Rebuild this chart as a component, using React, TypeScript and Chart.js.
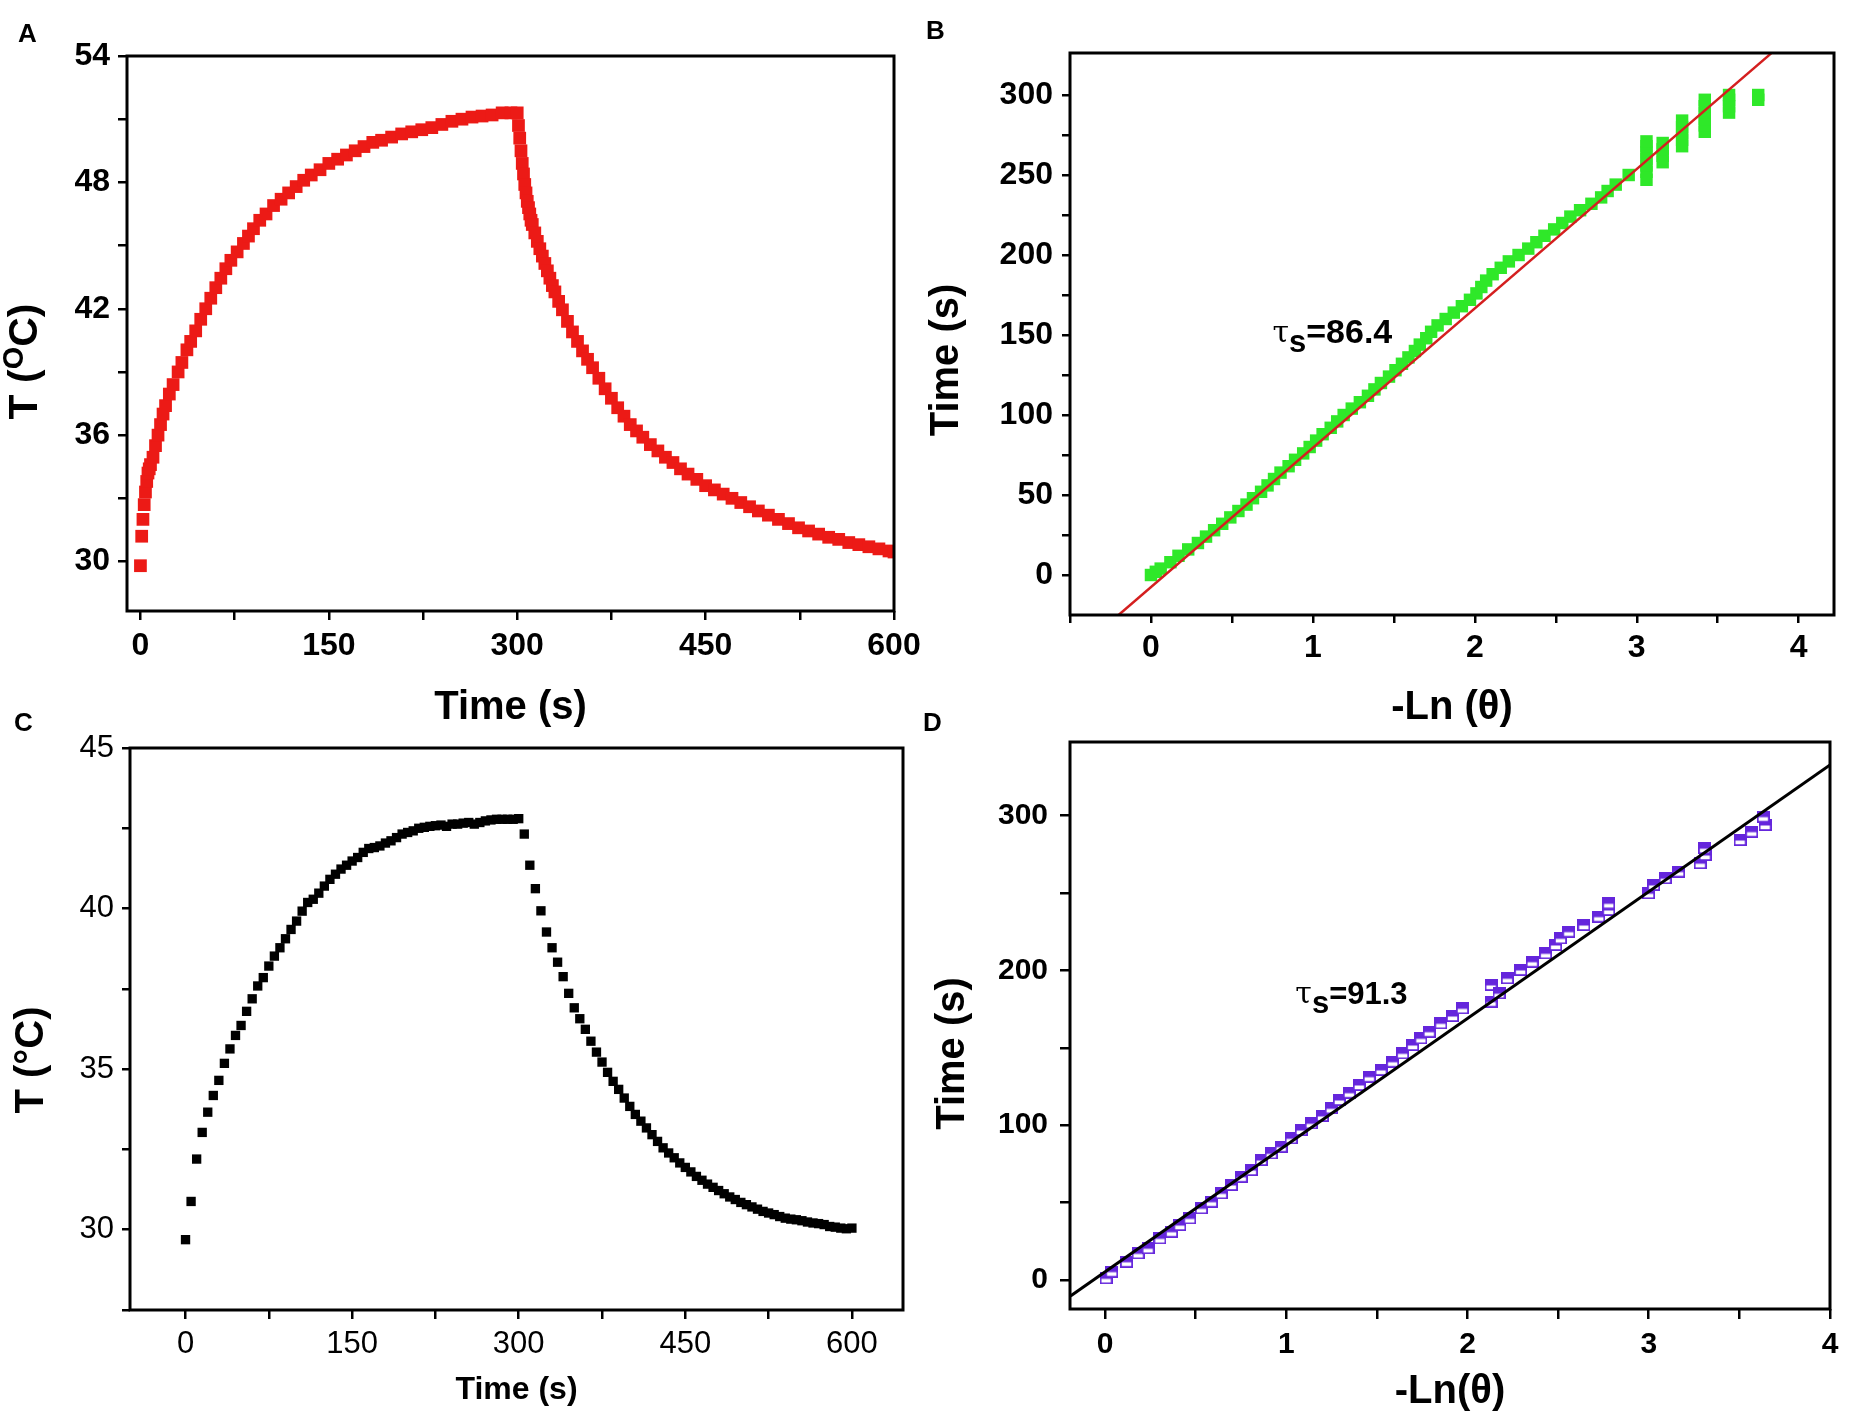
import { useEffect, useRef } from "react"
import { Chart, registerables } from "chart.js"

Chart.register(...registerables)

// ---------- A: photothermal heating / cooling curve (red) ----------
const heatTimeA = [
  0, 1, 2, 3, 4, 5, 6, 7, 8, 10, 12, 14, 16, 18, 20, 23, 26, 30, 33, 37, 40, 44, 48, 52, 56, 60, 64, 68, 72, 77, 82,
  86, 90, 95, 100, 106, 112, 118, 124, 130, 136, 143, 150, 157, 164, 171, 178, 185, 192, 200, 208, 216, 224, 232,
  240, 248, 256, 264, 272, 280, 288, 295, 300,
]
const heatTempA = [
  29.8, 31.2, 32.0, 32.7, 33.3, 33.8, 34.2, 34.4, 34.6, 34.95, 35.5, 36.0, 36.5, 37.0, 37.4, 37.95, 38.4, 39.0, 39.45,
  40.05, 40.45, 40.95, 41.5, 42.0, 42.5, 43.0, 43.45, 43.9, 44.3, 44.7, 45.1, 45.45, 45.8, 46.2, 46.5, 46.9, 47.2, 47.5,
  47.8, 48.1, 48.35, 48.6, 48.9, 49.1, 49.3, 49.5, 49.7, 49.9, 50.0, 50.15, 50.3, 50.4, 50.5, 50.6, 50.75, 50.9, 51.0,
  51.1, 51.15, 51.2, 51.3, 51.3, 51.3,
]
const coolTimeA = [
  301, 302, 303, 304, 305, 306, 307, 308, 309, 310, 311, 312, 314, 316, 318, 320, 322, 324, 326, 328, 330, 333, 336,
  340, 344, 348, 352, 356, 360, 365, 370, 375, 380, 385, 390, 395, 400, 406, 412, 418, 424, 430, 436, 443, 450, 457,
  464, 471, 478, 485, 492, 500, 508, 516, 524, 532, 540, 548, 556, 564, 572, 580, 588, 596, 600,
]
const coolTempA = [
  50.7, 50.1, 49.5, 48.9, 48.4, 47.9, 47.5, 47.1, 46.8, 46.5, 46.2, 46.0, 45.6, 45.2, 44.85, 44.5, 44.15, 43.8, 43.45,
  43.1, 42.8, 42.35, 41.95, 41.4, 40.9, 40.45, 40.0, 39.6, 39.2, 38.7, 38.2, 37.75, 37.3, 36.9, 36.5, 36.2, 35.9,
  35.55, 35.25, 34.95, 34.7, 34.4, 34.15, 33.9, 33.6, 33.4, 33.2, 33.0, 32.8, 32.6, 32.4, 32.2, 32.0, 31.8, 31.6,
  31.45, 31.3, 31.15, 31.05, 30.9, 30.8, 30.7, 30.6, 30.5, 30.45,
]

// ---------- B: time vs -Ln(theta), green data + red fit ----------
const bandTimeB = [
  0, 2, 4, 8, 12, 16, 20, 24, 28, 32, 36, 40, 44, 48, 52, 56, 60, 64, 68, 72, 76, 80, 84, 88, 92, 96, 100, 104, 108,
  112, 116, 120, 124, 128, 132, 136, 140, 144, 148, 152, 156, 160, 164, 168, 172, 176, 180, 184, 188, 192, 196, 200,
  204, 208, 212, 216, 220, 224, 228, 232, 236, 240, 244,
]
const bandLnB = [
  0.0, 0.03, 0.06, 0.12, 0.17, 0.23, 0.29, 0.34, 0.39, 0.44, 0.49, 0.54, 0.59, 0.63, 0.68, 0.72, 0.76, 0.8, 0.85, 0.89,
  0.94, 0.98, 1.02, 1.06, 1.11, 1.15, 1.19, 1.24, 1.29, 1.34, 1.38, 1.42, 1.47, 1.51, 1.55, 1.59, 1.63, 1.66, 1.7,
  1.73, 1.77, 1.82, 1.87, 1.92, 1.97, 2.01, 2.04, 2.07, 2.11, 2.16, 2.21, 2.27, 2.33, 2.38, 2.43, 2.49, 2.54, 2.59,
  2.65, 2.72, 2.78, 2.82, 2.87,
]
// noisy end of the cooling curve: -Ln(theta) jumps in steps
const tailLnB = [
  2.95, 3.06, 3.06, 3.06, 3.06, 3.06, 3.06, 3.06, 3.16, 3.16, 3.16, 3.16, 3.28, 3.28, 3.28, 3.28, 3.28, 3.42, 3.42,
  3.42, 3.42, 3.42, 3.42, 3.57, 3.57, 3.57, 3.57, 3.75, 3.75,
]
const tailTimeB = [
  250, 247, 252, 256, 260, 264, 268, 271, 258, 262, 266, 270, 268, 272, 276, 280, 284, 277, 281, 285, 289, 293, 297,
  289, 293, 297, 300, 297, 300,
]
const fitLnB = [-0.2, 3.83]
const fitTimeB = [-25, 326]

// ---------- C: second heating / cooling curve (black) ----------
const timeC = [
  0, 5, 10, 15, 20, 25, 30, 35, 40, 45, 50, 55, 60, 65, 70, 75, 80, 85, 90, 95, 100, 105, 110, 115, 120, 125, 130,
  135, 140, 145, 150, 155, 160, 165, 170, 175, 180, 185, 190, 195, 200, 205, 210, 215, 220, 225, 230, 235, 240, 245,
  250, 255, 260, 265, 270, 275, 280, 285, 290, 295, 300, 305, 310, 315, 320, 325, 330, 335, 340, 345, 350, 355, 360,
  365, 370, 375, 380, 385, 390, 395, 400, 405, 410, 415, 420, 425, 430, 435, 440, 445, 450, 455, 460, 465, 470, 475,
  480, 485, 490, 495, 500, 505, 510, 515, 520, 525, 530, 535, 540, 545, 550, 555, 560, 565, 570, 575, 580, 585, 590,
  595, 600,
]
const tempC = [
  29.69, 30.88, 32.2, 33.03, 33.66, 34.18, 34.65, 35.18, 35.63, 36.05, 36.36, 36.8, 37.19, 37.59, 37.85, 38.21, 38.52,
  38.78, 39.06, 39.35, 39.61, 39.92, 40.19, 40.29, 40.48, 40.7, 40.91, 41.07, 41.23, 41.35, 41.48, 41.59, 41.75,
  41.87, 41.9, 41.95, 42.04, 42.11, 42.21, 42.32, 42.37, 42.42, 42.5, 42.53, 42.56, 42.58, 42.6, 42.56, 42.63, 42.63,
  42.66, 42.68, 42.63, 42.68, 42.73, 42.76, 42.78, 42.78, 42.78, 42.78, 42.8,
  42.32, 41.35, 40.62, 39.93, 39.27, 38.78, 38.33, 37.88, 37.36, 36.91, 36.57, 36.24, 35.87, 35.53, 35.22, 34.9,
  34.62, 34.37, 34.1, 33.84, 33.59, 33.38, 33.17, 32.96, 32.75, 32.55, 32.39, 32.24, 32.08, 31.94, 31.8, 31.66, 31.54,
  31.42, 31.32, 31.22, 31.12, 31.02, 30.94, 30.85, 30.78, 30.71, 30.64, 30.57, 30.52, 30.47, 30.41, 30.36, 30.33,
  30.31, 30.28, 30.24, 30.21, 30.19, 30.16, 30.1, 30.08, 30.05, 30.03, 30.05,
]

// ---------- D: time vs -Ln(theta), purple data + black fit ----------
const lnD = [
  0.006, 0.037, 0.119, 0.183, 0.238, 0.303, 0.367, 0.413, 0.468, 0.532, 0.587, 0.642, 0.697, 0.752, 0.807, 0.862,
  0.917, 0.972, 1.027, 1.083, 1.138, 1.2, 1.248, 1.293, 1.348, 1.403, 1.458, 1.523, 1.587, 1.642, 1.697, 1.743, 1.789,
  1.853, 1.917, 1.972, 2.13, 2.13, 2.174, 2.22, 2.293, 2.357, 2.431, 2.486, 2.513, 2.559, 2.642, 2.724, 2.779, 2.779,
  2.999, 3.027, 3.091, 3.165, 3.284, 3.311, 3.308, 3.504, 3.568, 3.642, 3.632,
]
const timeD = [
  1.1, 5.4, 11.8, 17.2, 20.5, 26.9, 31.2, 35.5, 39.8, 46.3, 50.6, 56, 61.4, 66.7, 71, 77.5, 81.8, 86.1, 91.5, 96.9,
  101.2, 106, 110.9, 116.3, 121, 126, 131.3, 135.7, 141, 146.4, 151.8, 156.1, 160.4, 165.8, 170.5, 175.5, 179.8, 190.6,
  185.2, 194.9, 200.3, 205.6, 211, 216.4, 220.7, 225, 229.3, 234.7, 239, 243.3, 249.8, 255.2, 259.5, 263.8, 269.2,
  274.5, 278.9, 284.2, 289.6, 293.9, 299.3,
]
const fitLnD = [-0.19, 4.0]
const fitTimeD = [-10.3, 332.7]

// ---------- ticks ----------
const ticksTimeA = [0, 75, 150, 225, 300, 375, 450, 525, 600]
const labelsTime = [0, 150, 300, 450, 600]
const ticksTempA = [30, 33, 36, 39, 42, 45, 48, 51, 54]
const labelsTempA = [30, 36, 42, 48, 54]
const ticksLnB = [-0.5, 0, 0.5, 1, 1.5, 2, 2.5, 3, 3.5, 4]
const labelsLn = [0, 1, 2, 3, 4]
const ticksTimeB = [0, 25, 50, 75, 100, 125, 150, 175, 200, 225, 250, 275, 300]
const labelsTimeB = [0, 50, 100, 150, 200, 250, 300]
const ticksTempC = [27.5, 30, 32.5, 35, 37.5, 40, 42.5, 45]
const labelsTempC = [30, 35, 40, 45]
const ticksLnD = [0, 0.5, 1, 1.5, 2, 2.5, 3, 3.5, 4]
const ticksTimeD = [0, 50, 100, 150, 200, 250, 300]
const labelsTimeD = [0, 100, 200, 300]

const SANS = "'Liberation Sans', Arial, Helvetica, sans-serif"
const NARROW = "'Liberation Sans Narrow', 'Arial Narrow', 'Liberation Sans', sans-serif"
const SERIF = "'DejaVu Serif', 'Liberation Serif', serif"

const RED = "#ec1a16"
const GREEN = "#2fe829"
const PURPLE = "#6526dc"

type Seg = { text: string; font: string; dy?: number }

function drawSegs(ctx: CanvasRenderingContext2D, segs: Seg[], x: number, y: number, center: boolean) {
  const widths = segs.map((s) => {
    ctx.font = s.font
    return ctx.measureText(s.text).width
  })
  const total = widths.reduce((a, b) => a + b, 0)
  let cx = center ? x - total / 2 : x
  ctx.textAlign = "left"
  ctx.textBaseline = "middle"
  ctx.fillStyle = "#000"
  segs.forEach((s, i) => {
    ctx.font = s.font
    ctx.fillText(s.text, cx, y + (s.dy ?? 0))
    cx += widths[i]
  })
}

// box frame, rotated y title and the tau note
function decor(yTitle: { segs: Seg[]; gap: number; shift: number }, note?: { x: number; y: number; segs: Seg[] }) {
  return {
    id: "decor",
    afterDraw(chart: any) {
      const { ctx, chartArea: a, scales } = chart
      ctx.save()
      ctx.strokeStyle = "#000"
      ctx.lineWidth = 3
      ctx.strokeRect(a.left, a.top, a.right - a.left, a.bottom - a.top)
      ctx.save()
      ctx.translate(a.left - yTitle.gap, (a.top + a.bottom) / 2 + yTitle.shift)
      ctx.rotate(-Math.PI / 2)
      drawSegs(ctx, yTitle.segs, 0, 0, true)
      ctx.restore()
      if (note) {
        drawSegs(ctx, note.segs, scales.x.getPixelForValue(note.x), scales.y.getPixelForValue(note.y), false)
      }
      ctx.restore()
    },
  }
}

function axis(o: {
  min: number
  max: number
  ticks: number[]
  labels: number[]
  font: any
  tickLength: number
  padding: number
  size: number
  horizontal: boolean
  title?: any
}) {
  return {
    type: "linear",
    min: o.min,
    max: o.max,
    afterBuildTicks: (s: any) => {
      s.ticks = o.ticks.map((v) => ({ value: v }))
    },
    afterFit: (s: any) => {
      if (o.horizontal) s.height = o.size
      else s.width = o.size
    },
    ticks: {
      autoSkip: false,
      maxRotation: 0,
      minRotation: 0,
      padding: o.padding,
      color: "#000",
      font: o.font,
      callback: (v: any) => (o.labels.includes(v) ? String(v) : ""),
    },
    grid: { drawOnChartArea: false, drawTicks: true, tickLength: o.tickLength, color: "#000", lineWidth: 2.5 },
    border: { display: false },
    title: o.title ?? { display: false },
  }
}

const pts = (xs: number[], ys: number[]) => xs.map((x, i) => ({ x, y: ys[i] }))

function baseOptions(padding: any, scales: any) {
  return {
    responsive: false,
    maintainAspectRatio: false,
    animation: false,
    events: [],
    layout: { padding },
    plugins: { legend: { display: false }, tooltip: { enabled: false } },
    scales,
  }
}

// marker of panel D: upper half filled, lower half open
function halfSquare(color: string) {
  const c = document.createElement("canvas")
  c.width = 13
  c.height = 12
  const g = c.getContext("2d")!
  g.fillStyle = "#fff"
  g.fillRect(0, 0, 13, 12)
  g.fillStyle = color
  g.fillRect(0, 0, 13, 6.5)
  g.strokeStyle = color
  g.lineWidth = 1.8
  g.strokeRect(0.9, 0.9, 11.2, 10.2)
  return c
}

function configA(): any {
  return {
    type: "scatter",
    data: {
      datasets: [
        {
          data: pts(heatTimeA, heatTempA).concat(pts(coolTimeA, coolTempA)),
          pointStyle: "rect",
          pointRadius: 9,
          backgroundColor: RED,
          pointBorderWidth: 0,
          borderWidth: 0,
        },
      ],
    },
    options: baseOptions(
      { top: 56, right: 41, left: 0, bottom: 0 },
      {
        x: axis({
          min: -10.7, max: 600, ticks: ticksTimeA, labels: labelsTime,
          font: { family: NARROW, size: 32, weight: "bold" }, tickLength: 9, padding: 7, size: 121, horizontal: true,
          title: { display: true, text: "Time (s)", color: "#000", font: { family: SANS, size: 40, weight: "bold" }, padding: { top: 0, bottom: 0 } },
        }),
        y: axis({
          min: 27.65, max: 54, ticks: ticksTempA, labels: labelsTempA,
          font: { family: NARROW, size: 32, weight: "bold" }, tickLength: 9, padding: 8, size: 127, horizontal: false,
        }),
      }
    ),
    plugins: [
      decor({
        gap: 101,
        shift: 28,
        segs: [
          { text: "T (", font: `bold 41px ${SANS}` },
          { text: "O", font: `bold 29px ${SANS}`, dy: -11 },
          { text: "C)", font: `bold 41px ${SANS}` },
        ],
      }),
    ],
  }
}

function configB(): any {
  return {
    type: "scatter",
    data: {
      datasets: [
        {
          data: pts(fitLnB, fitTimeB),
          showLine: true,
          pointRadius: 0,
          borderColor: "#d41f1f",
          borderWidth: 2.5,
        },
        {
          data: pts(bandLnB, bandTimeB).concat(pts(tailLnB, tailTimeB)),
          pointStyle: "rect",
          pointRadius: 8.8,
          backgroundColor: GREEN,
          pointBorderWidth: 0,
          borderWidth: 0,
        },
      ],
    },
    options: baseOptions(
      { top: 53, right: 16, left: 0, bottom: 0 },
      {
        x: axis({
          min: -0.5, max: 4.218, ticks: ticksLnB, labels: labelsLn,
          font: { family: NARROW, size: 32, weight: "bold" }, tickLength: 8, padding: 6, size: 117, horizontal: true,
          title: { display: true, text: "-Ln (θ)", color: "#000", font: { family: SANS, size: 40, weight: "bold" }, padding: { top: 0, bottom: 0 } },
        }),
        y: axis({
          min: -25, max: 326.25, ticks: ticksTimeB, labels: labelsTimeB,
          font: { family: NARROW, size: 32, weight: "bold" }, tickLength: 8, padding: 9, size: 165, horizontal: false,
        }),
      }
    ),
    plugins: [
      decor(
        { gap: 123, shift: 26, segs: [{ text: "Time (s)", font: `bold 40px ${SANS}` }] },
        {
          x: 0.75,
          y: 150.6,
          segs: [
            { text: "τ", font: `30px ${SERIF}` },
            { text: "s", font: `bold 31px ${SANS}`, dy: 9 },
            { text: "=86.4", font: `bold 34px ${NARROW}` },
          ],
        }
      ),
    ],
  }
}

function configC(): any {
  return {
    type: "scatter",
    data: {
      datasets: [
        {
          data: pts(timeC, tempC),
          pointStyle: "rect",
          pointRadius: 6.6,
          backgroundColor: "#000",
          pointBorderWidth: 0,
          borderWidth: 0,
        },
      ],
    },
    options: baseOptions(
      { top: 48, right: 32, left: 0, bottom: 0 },
      {
        x: axis({
          min: -50, max: 646, ticks: ticksTimeA, labels: labelsTime,
          font: { family: SANS, size: 31 }, tickLength: 9, padding: 7, size: 116, horizontal: true,
          title: { display: true, text: "Time (s)", color: "#000", font: { family: SANS, size: 32, weight: "bold" }, padding: { top: 0, bottom: 17 } },
        }),
        y: axis({
          min: 27.5, max: 45, ticks: ticksTempC, labels: labelsTempC,
          font: { family: SANS, size: 31 }, tickLength: 8, padding: 8, size: 130, horizontal: false,
        }),
      }
    ),
    plugins: [decor({ gap: 98, shift: 31, segs: [{ text: "T (°C)", font: `bold 40px ${SANS}` }] })],
  }
}

function configD(): any {
  return {
    type: "scatter",
    data: {
      datasets: [
        {
          data: pts(fitLnD, fitTimeD),
          showLine: true,
          pointRadius: 0,
          borderColor: "#000",
          borderWidth: 3,
        },
        {
          data: pts(lnD, timeD),
          pointStyle: halfSquare(PURPLE),
          pointRadius: 6,
          backgroundColor: PURPLE,
          borderWidth: 0,
        },
      ],
    },
    options: baseOptions(
      { top: 42, right: 20, left: 0, bottom: 0 },
      {
        x: axis({
          min: -0.193, max: 4, ticks: ticksLnD, labels: labelsLn,
          font: { family: SANS, size: 30, weight: "bold" }, tickLength: 10, padding: 8, size: 117, horizontal: true,
          title: { display: true, text: "-Ln(θ)", color: "#000", font: { family: SANS, size: 40, weight: "bold" }, padding: { top: 0, bottom: 10 } },
        }),
        y: axis({
          min: -18.7, max: 347.5, ticks: ticksTimeD, labels: labelsTimeD,
          font: { family: SANS, size: 30, weight: "bold" }, tickLength: 10, padding: 12, size: 165, horizontal: false,
        }),
      }
    ),
    plugins: [
      decor(
        { gap: 117, shift: 28, segs: [{ text: "Time (s)", font: `bold 40px ${SANS}` }] },
        {
          x: 1.05,
          y: 184,
          segs: [
            { text: "τ", font: `30px ${SERIF}` },
            { text: "s", font: `bold 31px ${SANS}`, dy: 9 },
            { text: "=91.3", font: `bold 31px ${SANS}` },
          ],
        }
      ),
    ],
  }
}

function Panel({ left, top, width, height, build }: { left: number; top: number; width: number; height: number; build: () => any }) {
  const canvasRef = useRef<HTMLCanvasElement>(null)

  useEffect(() => {
    if (!canvasRef.current) return
    const chart = new Chart(canvasRef.current, build())
    return () => chart.destroy()
  }, [build])

  return (
    <canvas
      ref={canvasRef}
      width={width}
      height={height}
      style={{ position: "absolute", left, top, width, height }}
    />
  )
}

const letterStyle = {
  position: "absolute" as const,
  fontFamily: SANS,
  fontWeight: "bold" as const,
  fontSize: 26,
  lineHeight: 1,
  color: "#000",
}

export default function App() {
  return (
    <div style={{ position: "absolute", left: 0, top: 0, width: 1850, height: 1426, background: "#fff", overflow: "hidden" }}>
      <Panel left={0} top={0} width={935} height={732} build={configA} />
      <Panel left={905} top={0} width={945} height={732} build={configB} />
      <Panel left={0} top={700} width={935} height={726} build={configC} />
      <Panel left={905} top={700} width={945} height={726} build={configD} />
      <div style={{ ...letterStyle, left: 18, top: 20 }}>A</div>
      <div style={{ ...letterStyle, left: 926, top: 17 }}>B</div>
      <div style={{ ...letterStyle, left: 14, top: 709 }}>C</div>
      <div style={{ ...letterStyle, left: 923, top: 709 }}>D</div>
    </div>
  )
}
